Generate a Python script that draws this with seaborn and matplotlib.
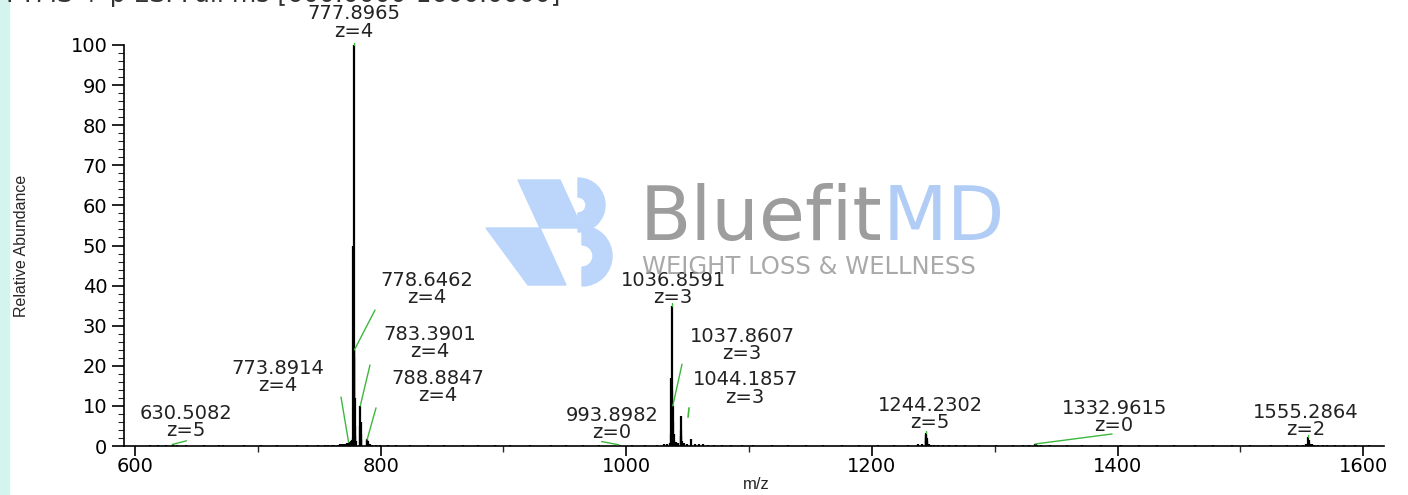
import numpy as np
import pandas as pd
import matplotlib
matplotlib.use("Agg")
import matplotlib.pyplot as plt
import matplotlib.patches as mpatches
import seaborn as sns

# -------------------------
# SPECTRUM DATA
# -------------------------
peak_mz = [
    612.4, 618.9, 625.3, 630.5082, 634.2, 641.7, 655.8, 668.2, 671.4, 688.6,
    702.3, 715.9, 731.6, 740.2, 748.9, 754.3, 757.1, 760.5, 762.4, 764.9,
    766.8, 768.6, 769.5, 771.2, 772.6, 773.8914, 774.9, 775.6, 776.4, 777.1,
    777.6455, 777.8965, 778.1470, 778.3975, 778.6462, 778.8970, 779.1480, 779.4000, 779.6500,
    783.1400, 783.3901, 783.6400, 783.8900, 784.1400,
    788.8847, 789.1300, 789.3800, 789.6300, 790.1, 791.5, 793.2, 796.0, 799.5,
    806.3, 812.8, 824.1, 838.5, 851.2, 866.7, 879.4, 893.0, 905.6, 921.3,
    938.8, 951.2, 964.7, 977.5, 993.8982, 1004.6, 1015.3, 1024.8, 1030.6,
    1033.4, 1035.2, 1036.1900, 1036.5250, 1036.8591, 1037.1930, 1037.5270,
    1037.8607, 1038.1950, 1038.5300, 1039.2, 1040.8, 1042.4,
    1044.1857, 1044.5200, 1044.8500, 1045.1900, 1046.9, 1049.3, 1052.4,
    1055.6, 1058.9, 1062.7, 1066.4, 1071.3, 1077.8, 1085.2, 1094.6, 1103.1,
    1118.4, 1131.7, 1146.5, 1160.2, 1175.9, 1189.4, 1204.8, 1218.3, 1229.6,
    1237.2, 1240.8, 1243.8300, 1244.0300, 1244.2302, 1244.4300, 1244.6300,
    1244.8300, 1245.0300, 1245.2300, 1246.5, 1248.0, 1250.3, 1253.6, 1257.9,
    1262.4, 1268.7, 1276.1, 1287.5, 1301.2, 1314.6, 1322.8, 1328.3,
    1332.9615, 1333.5, 1334.2, 1337.9, 1345.1, 1358.6, 1371.4, 1386.2,
    1402.7, 1417.3, 1431.8, 1446.2, 1462.9, 1477.4, 1493.6, 1508.2, 1524.7,
    1537.9, 1546.3, 1550.8, 1553.8, 1555.2864, 1555.7900, 1556.2900,
    1556.7900, 1558.0, 1560.1, 1563.2, 1567.4, 1570.6, 1576.8, 1584.3,
    1593.7, 1604.5,
]
peak_intensity = [
    0.2, 0.2, 0.3, 0.4, 0.3, 0.2, 0.2, 0.2, 0.2, 0.2,
    0.2, 0.2, 0.2, 0.2, 0.25, 0.3, 0.3, 0.3, 0.3, 0.35,
    0.4, 0.45, 0.5, 0.6, 0.7, 0.9, 1.0, 1.2, 1.5, 2.0,
    50.0, 100.0, 24.0, 22.0, 24.0, 12.0, 5.0, 2.5, 1.2,
    5.0, 10.0, 6.0, 3.0, 1.5,
    1.5, 1.8, 1.2, 0.8, 0.5, 0.4, 0.3, 0.3, 0.2,
    0.3, 0.2, 0.3, 0.2, 0.3, 0.2, 0.2, 0.3, 0.2, 0.3,
    0.2, 0.3, 0.2, 0.3, 0.3, 0.2, 0.3, 0.3, 0.4,
    0.5, 0.8, 3.0, 17.0, 35.0, 14.0, 11.0,
    10.0, 6.0, 3.0, 1.5, 1.0, 0.8,
    7.5, 4.0, 2.5, 1.2, 0.8, 0.6, 1.7,
    0.5, 0.4, 0.4, 0.3, 0.3, 0.3, 0.3, 0.2, 0.3,
    0.2, 0.3, 0.2, 0.2, 0.3, 0.2, 0.2, 0.3, 0.3,
    0.4, 0.5, 1.2, 2.2, 3.2, 2.8, 2.0,
    1.3, 0.8, 0.5, 0.4, 0.35, 0.3, 0.3, 0.3,
    0.2, 0.2, 0.3, 0.2, 0.2, 0.2, 0.2, 0.3,
    0.5, 0.4, 0.3, 0.2, 0.2, 0.3, 0.2, 0.2,
    0.2, 0.3, 0.2, 0.2, 0.3, 0.2, 0.2, 0.3, 0.2,
    0.2, 0.3, 0.3, 0.4, 2.2, 1.6, 1.0,
    0.6, 0.4, 0.3, 0.3, 0.3, 0.3, 0.2, 0.2,
    0.2, 0.2,
]

# annotated peaks: m/z and charge state
label_mz = [630.5082, 773.8914, 777.8965, 778.6462, 783.3901, 788.8847, 993.8982,
            1036.8591, 1037.8607, 1044.1857, 1244.2302, 1332.9615, 1555.2864]
label_z = [5, 4, 4, 4, 4, 4, 0, 3, 3, 3, 5, 0, 2]

x_ticks = [600, 800, 1000, 1200, 1400, 1600]
y_ticks = [0, 10, 20, 30, 40, 50, 60, 70, 80, 90, 100]

df = pd.DataFrame({"mz": peak_mz, "intensity": peak_intensity})
peak_top = dict(zip(df["mz"], df["intensity"]))

# label layout: text centre (x, y) and leader line start, in data units
label_layout = {
    630.5082: ((641.5, 6.0), (641.9, 1.3)),
    773.8914: ((716.4, 17.2), (767.7, 12.2)),
    777.8965: ((777.9, 105.6), None),
    778.6462: ((837.7, 39.2), (795.4, 33.9)),
    783.3901: ((840.2, 25.7), (791.3, 20.2)),
    788.8847: ((846.7, 14.7), (796.2, 9.5)),
    993.8982: ((988.4, 5.5), (980.0, 1.1)),
    1036.8591: ((1038.1, 39.2), None),
    1037.8607: ((1094.3, 25.2), (1045.4, 20.4)),
    1044.1857: ((1096.7, 14.3), (1051.1, 9.5)),
    1244.2302: ((1247.4, 8.0), None),
    1332.9615: ((1397.2, 7.2), (1395.6, 3.0)),
    1555.2864: ((1553.5, 6.2), None),
}

# -------------------------
# FIGURE
# -------------------------
sns.set_style("ticks")
plt.rcParams["font.family"] = ["DejaVu Sans"]

W, H = 1408, 495
fig = plt.figure(figsize=(W / 100, H / 100), dpi=100)
ax = fig.add_axes([124 / W, 1 - 446 / H, 1260 / W, 401 / H])
ax.set_facecolor("none")


def px(x, y):
    # image pixel (from top-left) -> figure fraction
    return (x / W, 1 - y / H)


# light cyan strip on the left edge
fig.patches.append(mpatches.Rectangle((0, 0), 9 / W, 1, transform=fig.transFigure,
                                      color="#d4f5ee", zorder=0))

# watermark logo (behind everything)
logo_col = "#bcd5fa"
for verts in [
    [(518, 180), (560, 180), (582, 228), (540, 228)],
    [(486, 228), (540, 228), (566, 285), (528, 285)],
]:
    fig.patches.append(mpatches.Polygon([px(*v) for v in verts], closed=True,
                                        transform=fig.transFigure, color=logo_col, zorder=0))
for cx, cy, r in [(578, 205, 27), (582, 256, 30)]:
    fig.patches.append(mpatches.Wedge((cx, H - cy), r, -90, 90, width=19,
                                      transform=None, color=logo_col, zorder=0))

fig.text(*px(640, 240), "Bluefit", fontsize=54, color="#8c8c8c", alpha=0.85,
         ha="left", va="baseline", zorder=1)
fig.text(*px(883, 240), "MD", fontsize=54, color="#a9c8f6", alpha=0.9,
         ha="left", va="baseline", zorder=1)
fig.text(*px(642, 274), "WEIGHT LOSS & WELLNESS", fontsize=17.5, color="#9a9a9a",
         alpha=0.85, ha="left", va="baseline", zorder=1)

# clipped title at the very top
fig.text(*px(6, 2), "FTMS + p ESI Full ms [600.0000-1600.0000]", fontsize=18,
         color="#333333", ha="left", va="baseline")

# spectrum stems
ax.vlines(df["mz"], 0, df["intensity"], color="black", linewidth=1.6, zorder=3)

# peak labels with green leader lines
for mz, z in zip(label_mz, label_z):
    (tx, ty), start = label_layout[mz]
    ax.text(tx, ty, f"{mz:.4f}\nz={z}", ha="center", va="center", fontsize=14,
            linespacing=0.9, color="#222222", clip_on=False, zorder=4)
    top = peak_top[mz]
    if start is None:
        ax.plot([mz, mz], [top, top + 0.6], color="#3db83d", linewidth=1, zorder=4,
                clip_on=False)
    elif mz == 1044.1857:
        ax.plot([start[0], start[0] - 0.8], [start[1], 7.2], color="#3db83d",
                linewidth=1.2, zorder=4)
    else:
        ax.plot([start[0], mz], [start[1], top], color="#3db83d", linewidth=1, zorder=4)

ax.set_xlim(591, 1617)
ax.set_ylim(0, 100)
ax.set_xticks(x_ticks)
ax.set_yticks(y_ticks)
ax.set_xticks([700, 900, 1100, 1300, 1500], minor=True)
ax.set_yticks(np.arange(0, 101, 2), minor=True)
ax.tick_params(axis="both", which="major", labelsize=14, colors="black", width=1.2)
ax.tick_params(axis="y", which="major", length=9, pad=3)
ax.tick_params(axis="x", which="major", length=7, pad=1)
ax.tick_params(axis="y", which="minor", length=4, width=0.8)
ax.tick_params(axis="x", which="minor", length=4, width=1)

sns.despine(ax=ax)
for side in ["left", "bottom"]:
    ax.spines[side].set_linewidth(1.2)
    ax.spines[side].set_color("black")

ax.set_xlabel("m/z", fontsize=12, family=["Liberation Sans", "DejaVu Sans"])
ax.xaxis.set_label_coords(0.502, -0.078)
ax.set_ylabel("Relative Abundance", fontsize=11.5, family=["Liberation Sans", "DejaVu Sans"])
ax.yaxis.set_label_coords(-0.0755, 0.5)

fig.savefig("out.png", dpi=100)
